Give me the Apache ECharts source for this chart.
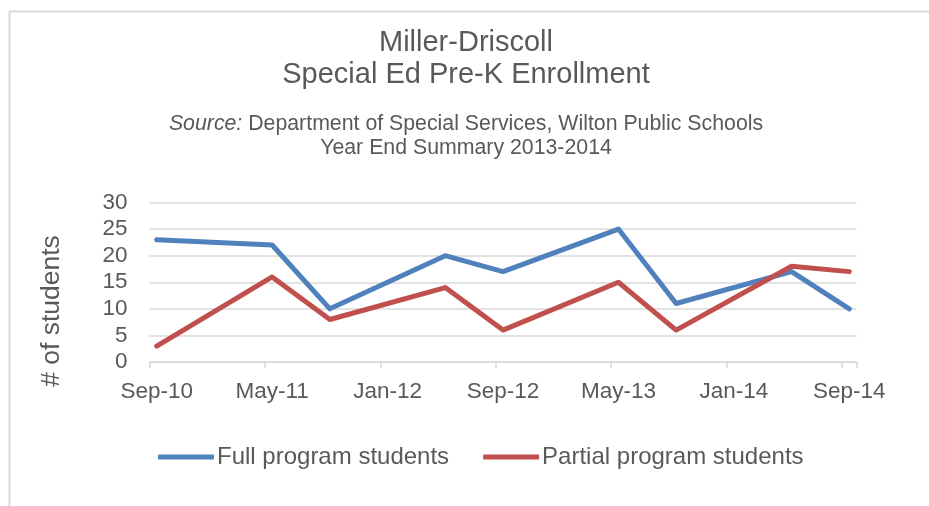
<!DOCTYPE html>
<html>
<head>
<meta charset="utf-8">
<script src="https://cdn.jsdelivr.net/npm/echarts@6/dist/echarts.min.js"></script>
<style>
  html, body { margin: 0; padding: 0; background: #ffffff; }
  #chart { width: 929px; height: 506px; }
</style>
</head>
<body>
<div id="chart"></div>
<script>
// ---- data ----
const monthNames = ['Jan', 'Feb', 'Mar', 'Apr', 'May', 'Jun', 'Jul', 'Aug', 'Sep', 'Oct', 'Nov', 'Dec'];
// monthly category axis from Sep-10 to Sep-14 (49 months)
const categories = [];
for (let i = 0; i < 49; i++) {
  const m = (8 + i) % 12;
  const y = 10 + Math.floor((8 + i) / 12);
  categories.push(monthNames[m] + '-' + String(y).padStart(2, '0'));
}
const tickLabels = ['Sep-10', 'May-11', 'Jan-12', 'Sep-12', 'May-13', 'Jan-14', 'Sep-14'];
const dates = ['Sep-10', 'May-11', 'Sep-11', 'May-12', 'Sep-12', 'May-13', 'Sep-13', 'May-14', 'Sep-14'];
const fullProgram = [23, 22, 10, 20, 17, 25, 11, 17, 10];
const partialProgram = [3, 16, 8, 14, 6, 15, 6, 18, 17];
const yTicks = [0, 5, 10, 15, 20, 25, 30];

const textColor = '#595959';
const gridColor = '#d9d9d9';
const font = 'Liberation Sans, Arial, sans-serif';

const chart = echarts.init(document.getElementById('chart'), null, { renderer: 'canvas' });
chart.setOption({
  backgroundColor: '#ffffff',
  animation: false,
  textStyle: { fontFamily: font, color: textColor },
  title: [
    {
      text: 'Miller-Driscoll\nSpecial Ed Pre-K Enrollment',
      left: 466, top: 27, textAlign: 'center', padding: 0,
      textStyle: { fontFamily: font, fontSize: 29, fontWeight: 'normal', color: textColor, lineHeight: 32, align: 'center' }
    },
    {
      text: '{i|Source:} Department of Special Services, Wilton Public Schools\nYear End Summary 2013-2014',
      left: 466, top: 112, textAlign: 'center', padding: 0,
      textStyle: {
        fontFamily: font, fontSize: 21.3, fontWeight: 'normal', color: textColor, lineHeight: 24, align: 'center',
        rich: { i: { fontFamily: font, fontSize: 21.3, fontStyle: 'italic', color: textColor, lineHeight: 24 } }
      }
    }
  ],
  graphic: [
    {
      type: 'rect', silent: true,
      shape: { x: 9.5, y: 11.5, width: 960, height: 540 },
      style: { fill: 'none', stroke: '#d9d9d9', lineWidth: 2 }
    },
    {
      type: 'text', silent: true,
      x: 52, y: 311, rotation: Math.PI / 2,
      style: {
        text: '# of students', fontFamily: font, fontSize: 26.5, fill: textColor,
        align: 'center', verticalAlign: 'middle'
      }
    }
  ],
  legend: {
    left: 158, top: 445, padding: 0,
    itemWidth: 56, itemHeight: 5, itemGap: 34,
    icon: 'roundRect',
    textStyle: { fontFamily: font, fontSize: 24, color: textColor, padding: [0, 0, 0, -2] },
    data: ['Full program students', 'Partial program students']
  },
  grid: { left: 149.5, right: 72.5, top: 202.5, bottom: 144, containLabel: false },
  xAxis: {
    type: 'category',
    data: categories,
    boundaryGap: true,
    axisLine: { show: true, lineStyle: { color: gridColor, width: 1.5 } },
    axisTick: { show: true, interval: 7, length: 6, lineStyle: { color: gridColor, width: 1.5 } },
    axisLabel: {
      interval: 0, margin: 18, fontFamily: font, fontSize: 22.5, color: textColor,
      formatter: v => (tickLabels.indexOf(v) >= 0 ? v : '')
    },
    splitLine: { show: false }
  },
  yAxis: {
    type: 'value',
    min: yTicks[0], max: yTicks[yTicks.length - 1], interval: 5,
    axisLine: { show: false },
    axisTick: { show: false },
    axisLabel: { margin: 22, fontFamily: font, fontSize: 22.5, color: textColor },
    splitLine: { show: true, lineStyle: { color: gridColor, width: 1.5 } }
  },
  series: [
    {
      name: 'Full program students',
      type: 'line',
      data: dates.map((d, i) => [d, fullProgram[i]]),
      showSymbol: false, symbol: 'none',
      color: '#4F81BD',
      lineStyle: { color: '#4F81BD', width: 5, cap: 'round', join: 'round' }
    },
    {
      name: 'Partial program students',
      type: 'line',
      data: dates.map((d, i) => [d, partialProgram[i]]),
      showSymbol: false, symbol: 'none',
      color: '#C0504D',
      lineStyle: { color: '#C0504D', width: 5, cap: 'round', join: 'round' }
    }
  ]
});
</script>
</body>
</html>
